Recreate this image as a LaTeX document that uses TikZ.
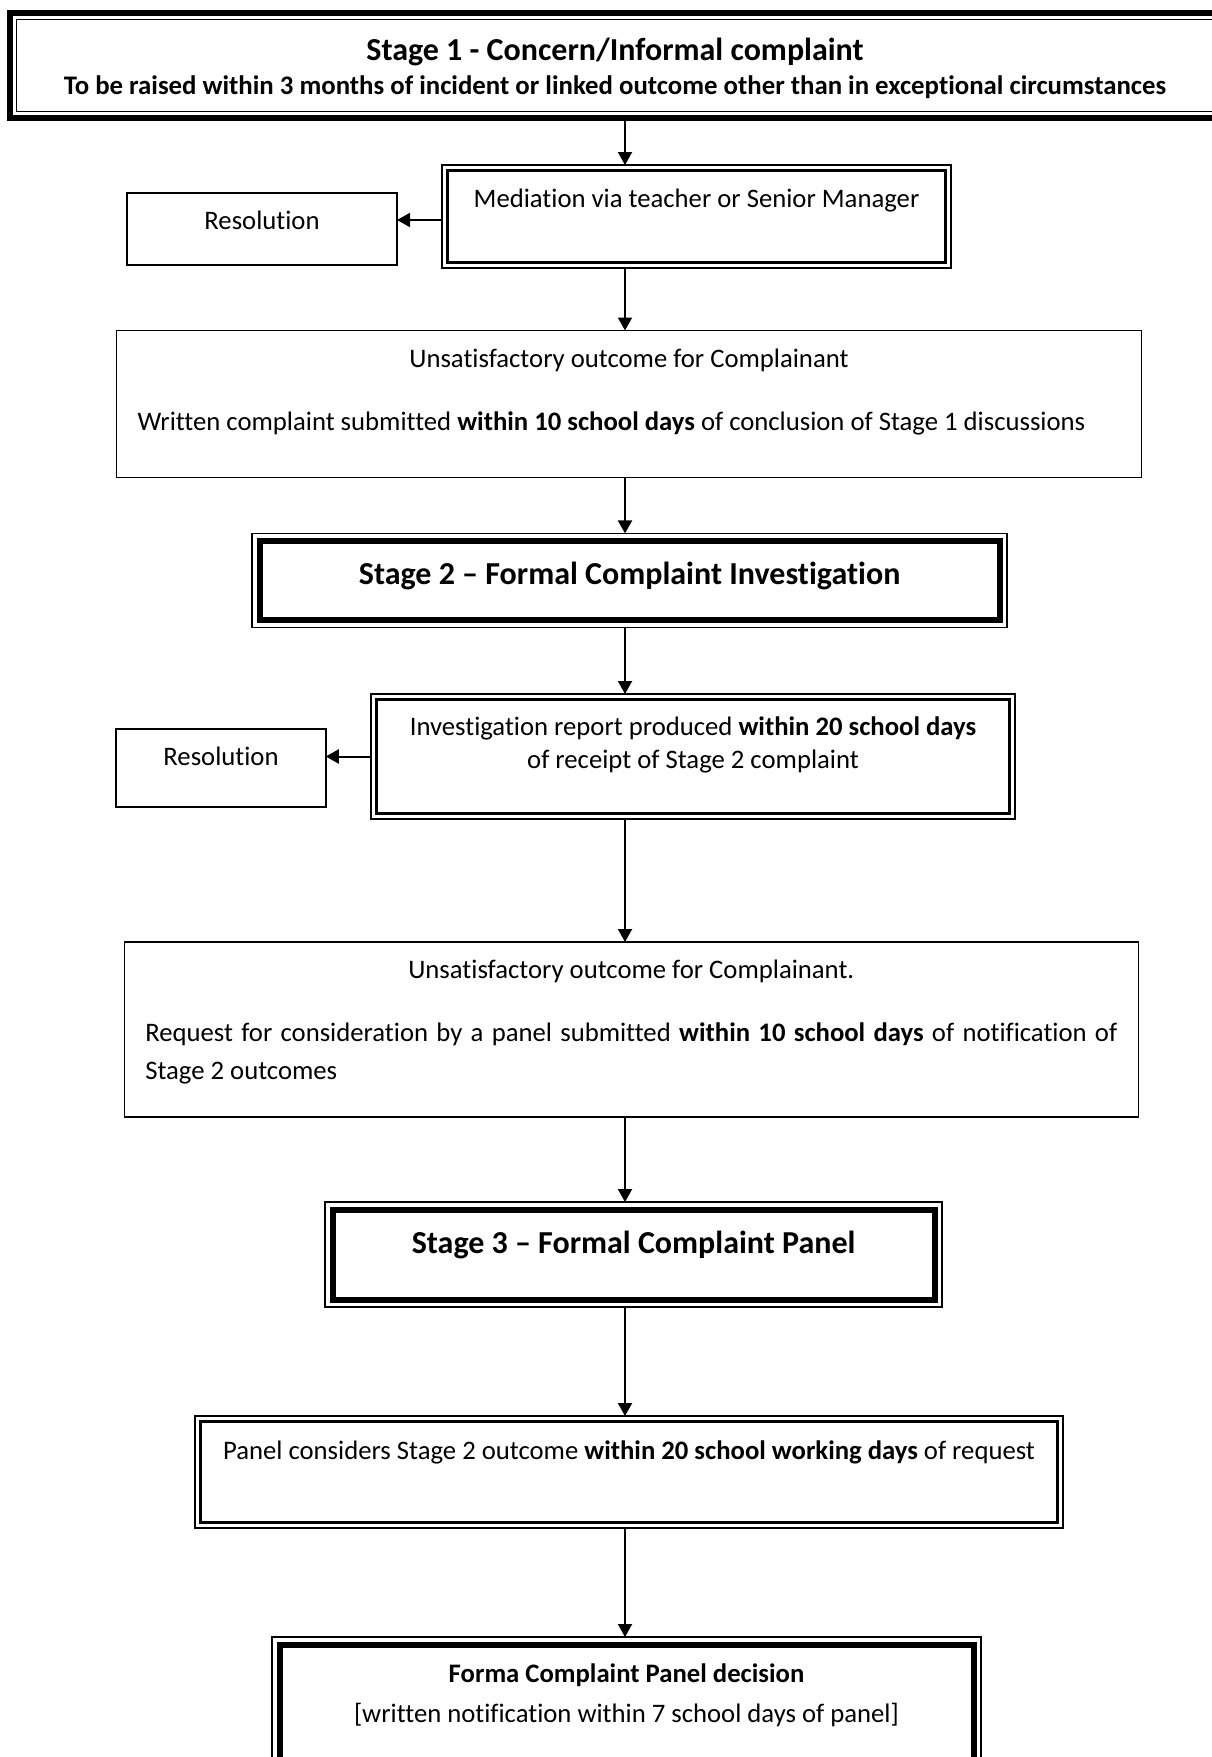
\documentclass[tikz,border=0pt]{standalone}
\usepackage{fontspec}
\setmainfont{Carlito}[Ligatures={NoCommon,NoContextual}]
\usepackage{tikz}
\usetikzlibrary{arrows.meta}

\newcommand{\boxtext}[4]{\parbox[c][#2][t]{\dimexpr#1-42pt\relax}{\vspace*{#3}#4}}

\begin{document}
\begin{tikzpicture}[
	x=1pt, y=-1pt,
	font=\fontsize{26.7}{38}\selectfont,
	box/.style={inner xsep=21pt, inner ysep=0pt, outer sep=0pt},
	inner line/.style 2 args={path picture={\draw[line width=#1] ([shift={(#2,-#2)}]path picture bounding box.north west) rectangle ([shift={(-#2,#2)}]path picture bounding box.south east);}},
	plainbox/.style={box, draw, line width=1.6pt},
	dblbox/.style={box, draw, line width=1.8pt, inner line={2.4pt}{5.5pt}},
	stagebox/.style={box, draw, line width=1.5pt, inner line={6pt}{7.5pt}},
	topbox/.style={box, draw, line width=6pt, inner line={1.5pt}{6.5pt}},
	arrow/.style={-{Triangle[length=13pt,width=14pt]}, line width=2pt}
]
	\useasboundingbox (0,0) rectangle (1211,1757);
	\coordinate (spine) at (625,0);

	\node[topbox] (stage1) at (615,65.5) {\boxtext{1210pt}{105pt}{25pt}{\centering
		{\fontsize{32}{36}\selectfont\bfseries Stage 1 - Concern/Informal complaint\par}
		{\fontsize{26.8}{34}\selectfont\bfseries To be raised within 3 months of incident or linked outcome other than in exceptional circumstances\par}}};

	\node[dblbox] (mediation) at (696.5,216.5) {\boxtext{509pt}{103pt}{24pt}{\centering Mediation via teacher or Senior Manager}};
	\node[plainbox] (resolve1) at (262,229) {\boxtext{270pt}{72pt}{18pt}{\centering Resolution}};

	\node[plainbox] (outcome1) at (629,404) {\boxtext{1025pt}{147pt}{18pt}{\centerline{Unsatisfactory outcome for Complainant}\vspace{25pt}Written complaint submitted \textbf{within 10 school days} of conclusion of Stage 1 discussions}};

	\node[stagebox] (stage2) at (629.6,580.4) {\boxtext{755pt}{94pt}{29pt}{\centering\fontsize{32}{38}\selectfont\bfseries Stage 2 – Formal Complaint Investigation}};

	\node[dblbox] (report) at (693,756.5) {\boxtext{644pt}{125pt}{23pt}{\centering\baselineskip=32.5pt Investigation report produced \textbf{within 20 school days}\\ of receipt of Stage 2 complaint}};
	\node[plainbox] (resolve2) at (221,768) {\boxtext{209.5pt}{77.5pt}{18pt}{\centering Resolution}};

	\node[plainbox] (outcome2) at (631.3,1029.5) {\boxtext{1014pt}{175pt}{18pt}{\centerline{Unsatisfactory outcome for Complainant.}\vspace{25pt}Request for consideration by a panel submitted \textbf{within 10 school days} of notification of\linebreak Stage 2 outcomes}};

	\node[stagebox] (stage3) at (633.6,1254.5) {\boxtext{617pt}{105pt}{29pt}{\centering\fontsize{32}{38}\selectfont\bfseries Stage 3 – Formal Complaint Panel}};

	\node[dblbox] (panel) at (629,1472) {\boxtext{868pt}{112pt}{25pt}{\centering Panel considers Stage 2 outcome \textbf{within 20 school working days} of request}};

	\node[stagebox] (decision) at (626.5,1706) {\boxtext{709pt}{138pt}{27pt}{\centering{\bfseries Forma Complaint Panel decision\par}\vspace{2pt}[written notification within 7 school days of panel]}};

	\draw[arrow] (stage1.south -| spine) -- (mediation.north -| spine);
	\draw[arrow] ([yshift=-3.5pt]mediation.west) -- ([yshift=-3.5pt]mediation.west -| resolve1.east);
	\draw[arrow] (mediation.south -| spine) -- (outcome1.north -| spine);
	\draw[arrow] (outcome1.south -| spine) -- (stage2.north -| spine);
	\draw[arrow] (stage2.south -| spine) -- (report.north -| spine);
	\draw[arrow] (report.west) -- (report.west -| resolve2.east);
	\draw[arrow] (report.south -| spine) -- (outcome2.north -| spine);
	\draw[arrow] (outcome2.south -| spine) -- (stage3.north -| spine);
	\draw[arrow] (stage3.south -| spine) -- (panel.north -| spine);
	\draw[arrow] (panel.south -| spine) -- (decision.north -| spine);
\end{tikzpicture}
\end{document}
